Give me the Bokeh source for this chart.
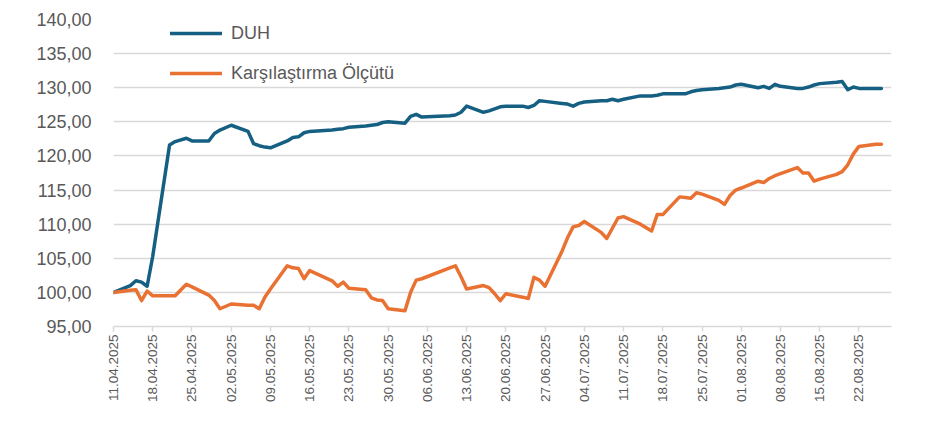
from datetime import datetime, timedelta
from bokeh.plotting import figure
from bokeh.models import Range1d, FixedTicker, Legend, LegendItem
from bokeh.embed import file_html
from bokeh.resources import INLINE
import math

dates = ["2025-04-11", "2025-04-14", "2025-04-15", "2025-04-16", "2025-04-17", "2025-04-18",
         "2025-04-21", "2025-04-22", "2025-04-24", "2025-04-25", "2025-04-28", "2025-04-29",
         "2025-04-30", "2025-05-02", "2025-05-05", "2025-05-06", "2025-05-07", "2025-05-08",
         "2025-05-09", "2025-05-12", "2025-05-13", "2025-05-14", "2025-05-15", "2025-05-16",
         "2025-05-20", "2025-05-21", "2025-05-22", "2025-05-23", "2025-05-26", "2025-05-27",
         "2025-05-28", "2025-05-29", "2025-05-30", "2025-06-02", "2025-06-03", "2025-06-04",
         "2025-06-05", "2025-06-10", "2025-06-11", "2025-06-12", "2025-06-13", "2025-06-16",
         "2025-06-17", "2025-06-18", "2025-06-19", "2025-06-20", "2025-06-23", "2025-06-24",
         "2025-06-25", "2025-06-26", "2025-06-27", "2025-06-30", "2025-07-01", "2025-07-02",
         "2025-07-03", "2025-07-04", "2025-07-07", "2025-07-08", "2025-07-09", "2025-07-10",
         "2025-07-11", "2025-07-14", "2025-07-16", "2025-07-17", "2025-07-18", "2025-07-21",
         "2025-07-22", "2025-07-23", "2025-07-24", "2025-07-25", "2025-07-28", "2025-07-29",
         "2025-07-30", "2025-07-31", "2025-08-01", "2025-08-04", "2025-08-05", "2025-08-06",
         "2025-08-07", "2025-08-08", "2025-08-11", "2025-08-12", "2025-08-13", "2025-08-14",
         "2025-08-15", "2025-08-18", "2025-08-19", "2025-08-20", "2025-08-21", "2025-08-22",
         "2025-08-25", "2025-08-26"]

duh = [100.0, 101.0, 101.7, 101.5, 100.9, 105.3,
       121.6, 122.1, 122.6, 122.2, 122.2, 123.3,
       123.8, 124.5, 123.6, 121.8, 121.5, 121.3,
       121.2, 122.2, 122.7, 122.8, 123.4, 123.6,
       123.8, 123.9, 124.0, 124.2, 124.4, 124.5,
       124.6, 124.9, 125.0, 124.8, 125.8, 126.1,
       125.7, 125.9, 126.0, 126.4, 127.3, 126.4,
       126.6, 126.9, 127.2, 127.3, 127.3, 127.1,
       127.4, 128.1, 128.0, 127.7, 127.6, 127.3,
       127.7, 127.9, 128.1, 128.1, 128.3, 128.1,
       128.3, 128.8, 128.8, 128.9, 129.1, 129.1,
       129.1, 129.4, 129.6, 129.7, 129.9, 130.0,
       130.1, 130.4, 130.5, 130.0, 130.2, 129.9,
       130.5, 130.2, 129.9, 129.9, 130.1, 130.4,
       130.6, 130.8, 130.9, 129.7, 130.1, 129.9,
       129.9, 129.9]

benchmark = [100.0, 100.3, 100.4, 98.8, 100.2, 99.5,
             99.5, 99.5, 101.2, 100.8, 99.6, 98.8,
             97.6, 98.3, 98.1, 98.1, 97.6, 99.3,
             100.5, 103.9, 103.6, 103.5, 102.0, 103.2,
             101.7, 100.9, 101.5, 100.6, 100.4, 99.2,
             98.9, 98.8, 97.6, 97.3, 100.0, 101.8,
             102.0, 103.6, 103.9, 102.3, 100.5, 101.0,
             100.7, 99.8, 98.8, 99.8, 99.3, 99.1,
             102.2, 101.8, 100.9, 106.0, 108.0, 109.6,
             109.8, 110.4, 108.8, 107.9, 109.4, 110.9,
             111.1, 110.0, 109.0, 111.4, 111.4, 114.0,
             113.9, 113.8, 114.6, 114.4, 113.5, 112.9,
             114.2, 115.0, 115.3, 116.3, 116.1, 116.7,
             117.1, 117.4, 118.3, 117.5, 117.5, 116.3,
             116.6, 117.3, 117.7, 118.7, 120.3, 121.4,
             121.7, 121.7]

x_tick_labels = ["11.04.2025", "18.04.2025", "25.04.2025", "02.05.2025", "09.05.2025",
                 "16.05.2025", "23.05.2025", "30.05.2025", "06.06.2025", "13.06.2025",
                 "20.06.2025", "27.06.2025", "04.07.2025", "11.07.2025", "18.07.2025",
                 "25.07.2025", "01.08.2025", "08.08.2025", "15.08.2025", "22.08.2025"]

y_ticks = [95, 100, 105, 110, 115, 120, 125, 130, 135, 140]

series_names = ["DUH", "Karşılaştırma Ölçütü"]
series_colors = ["#156082", "#E97132"]

EPOCH = datetime(1970, 1, 1)


def to_ms(d):
    return (d - EPOCH).total_seconds() * 1000.0


xs = [to_ms(datetime.strptime(d, "%Y-%m-%d")) for d in dates]
tick_ms = [to_ms(datetime.strptime(t, "%d.%m.%Y")) for t in x_tick_labels]

start = datetime.strptime(x_tick_labels[0], "%d.%m.%Y")
x_start = to_ms(start)
x_end = to_ms(start + timedelta(days=138.8))

p = figure(width=924, height=405, x_axis_type="datetime",
           output_backend="svg", toolbar_location=None,
           x_range=Range1d(x_start, x_end), y_range=Range1d(95, 140),
           min_border_left=113, min_border_right=33,
           min_border_top=19, min_border_bottom=77)

p.outline_line_color = None
p.background_fill_color = "white"
p.border_fill_color = "white"

font = "Liberation Sans"
grey_text = "#595959"
grid_col = "#d9d9d9"

# y axis
p.yaxis.ticker = FixedTicker(ticks=y_ticks)
p.yaxis.major_label_overrides = {t: f"{t:.2f}".replace(".", ",") for t in y_ticks}
p.yaxis.axis_line_color = None
p.yaxis.major_tick_line_color = None
p.yaxis.minor_tick_line_color = None
p.yaxis.major_label_text_font = font
p.yaxis.major_label_text_font_size = "18px"
p.yaxis.major_label_text_color = grey_text
p.yaxis.major_label_standoff = 16

# x axis
p.xaxis.ticker = FixedTicker(ticks=tick_ms)
p.xaxis.major_label_overrides = {m: lab for m, lab in zip(tick_ms, x_tick_labels)}
p.xaxis.major_label_orientation = math.pi / 2
p.xaxis.axis_line_color = grid_col
p.xaxis.axis_line_width = 1.5
p.xaxis.major_tick_line_color = grid_col
p.xaxis.major_tick_line_width = 1.5
p.xaxis.major_tick_in = 0
p.xaxis.major_tick_out = 5
p.xaxis.minor_tick_line_color = None
p.xaxis.major_label_text_font = font
p.xaxis.major_label_text_font_size = "13.5px"
p.xaxis.major_label_text_color = grey_text
p.xaxis.major_label_standoff = 3

p.xgrid.grid_line_color = None
p.ygrid.ticker = FixedTicker(ticks=y_ticks[1:])
p.ygrid.grid_line_color = grid_col
p.ygrid.grid_line_width = 1.5

r1 = p.line(xs, duh, line_color=series_colors[0], line_width=3.5,
            line_join="round", line_cap="round")
r2 = p.line(xs, benchmark, line_color=series_colors[1], line_width=3.5,
            line_join="round", line_cap="round")

legend = Legend(items=[LegendItem(label=series_names[0], renderers=[r1]),
                       LegendItem(label=series_names[1], renderers=[r2])],
                location=(57, 242), orientation="vertical",
                padding=0, margin=0, spacing=18,
                glyph_width=52, glyph_height=22, label_height=22,
                label_standoff=9,
                label_text_font=font, label_text_font_size="18px",
                label_text_color=grey_text,
                border_line_color=None, background_fill_alpha=0)
p.add_layout(legend)

open("out.html", "w").write(file_html(p, INLINE))
